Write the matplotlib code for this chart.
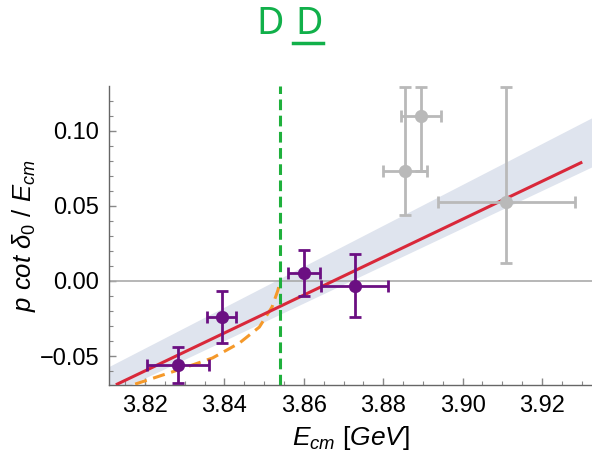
import matplotlib
matplotlib.use("Agg")
import matplotlib.pyplot as plt
from matplotlib.lines import Line2D
import numpy as np

plt.rcParams['font.family'] = ['Liberation Sans', 'DejaVu Sans']
plt.rcParams['mathtext.fontset'] = 'custom'
plt.rcParams['mathtext.it'] = 'Liberation Sans:italic'
plt.rcParams['mathtext.rm'] = 'Liberation Sans'

# lattice points used in the fit (purple)
fit_E = [3.8283, 3.8393, 3.8600, 3.8728]
fit_y = [-0.0560, -0.0240, 0.0053, -0.0033]
fit_xerr = [0.0079, 0.0037, 0.0040, 0.0084]
fit_yerr = [0.0117, 0.0170, 0.0150, 0.0210]

# points not used (gray)
out_E = [3.8855, 3.8895, 3.9110]
out_y = [0.0733, 0.1100, 0.0527]
out_xerr = [0.0056, 0.0051, 0.0172]
out_yerr_lo = [0.0293, 0.0367, 0.0407]
out_yerr_hi = [0.0557, 0.0190, 0.0763]

# linear fit
fit_range = [3.8130, 3.9298]
fit_line = [-0.0687, 0.0787]
band_E = [3.8109, 3.9326]
band_lo = [-0.0760, 0.0760]
band_hi = [-0.0570, 0.1087]

# orange dashed curve
curve_E = [3.8175, 3.8283, 3.8370, 3.8438, 3.8488, 3.8520, 3.8535, 3.8540]
curve_y = [-0.0687, -0.0593, -0.0513, -0.0413, -0.0307, -0.0173, -0.0060, 0.0]

threshold = 3.854

fig = plt.figure(figsize=(5.92, 4.57), dpi=100)
ax = fig.add_axes([0.184, 0.1575, 0.816, 0.655])

ax.fill_between(band_E, band_lo, band_hi, color="#dfe4ee", lw=0, zorder=1)
ax.axhline(0, color="#aaaaaa", lw=1.2, zorder=2)
ax.plot(fit_range, fit_line, color="#d9283a", lw=2.2, zorder=4)
ax.plot(curve_E, curve_y, color="#f5992a", lw=2.2, ls=(0, (4, 2.2)), zorder=3)
ax.axvline(threshold, color="#1fb03c", lw=2.2, ls=(0, (3.5, 1.8)), zorder=5)

ax.errorbar(out_E, out_y, xerr=out_xerr, yerr=[out_yerr_lo, out_yerr_hi],
            fmt="o", color="#b9b9b9", ms=8.5, lw=2, capsize=4, capthick=2, zorder=6,
            clip_on=False)
ax.errorbar(fit_E, fit_y, xerr=fit_xerr, yerr=fit_yerr,
            fmt="o", color="#6b0f82", ms=8.5, lw=2, capsize=4, capthick=2, zorder=7)

ax.set_xlim(3.8109, 3.9326)
ax.set_ylim(-0.0693, 0.130)
ax.set_xticks([3.82, 3.84, 3.86, 3.88, 3.90, 3.92])
ax.set_xticklabels(["3.82", "3.84", "3.86", "3.88", "3.90", "3.92"])
ax.set_yticks([-0.05, 0.0, 0.05, 0.10])
ax.set_yticklabels(["\u22120.05", "0.00", "0.05", "0.10"])
ax.set_xticks(np.arange(3.815, 3.933, 0.005), minor=True)
ax.set_yticks(np.arange(-0.06, 0.13, 0.01), minor=True)
ax.tick_params(which="major", direction="in", length=5, width=1, color="#888888",
               labelsize=17, pad=7)
ax.tick_params(which="minor", direction="in", length=3, width=0.8, color="#888888")
for s in ["top", "right"]:
    ax.spines[s].set_visible(False)
for s in ["left", "bottom"]:
    ax.spines[s].set_color("#666666")
    ax.spines[s].set_linewidth(1)

ax.set_xlabel(r"$E_{cm}$ [$GeV$]", fontsize=19, labelpad=5)
ax.set_ylabel(r"$p\ cot\ \delta_0\ /\ E_{cm}$", fontsize=18.5, labelpad=1)

# title D Dbar (bar drawn as underline)
fig.text(0.456, 0.948, "D", color="#11b04a", fontsize=27, family="Noto Sans",
         ha="center", va="center")
fig.text(0.522, 0.948, "D", color="#11b04a", fontsize=27, family="Noto Sans",
         ha="center", va="center")
fig.add_artist(Line2D([0.495, 0.545], [0.906, 0.906], color="#11b04a", lw=2.5,
                      transform=fig.transFigure))

fig.savefig("out.png", dpi=100)
